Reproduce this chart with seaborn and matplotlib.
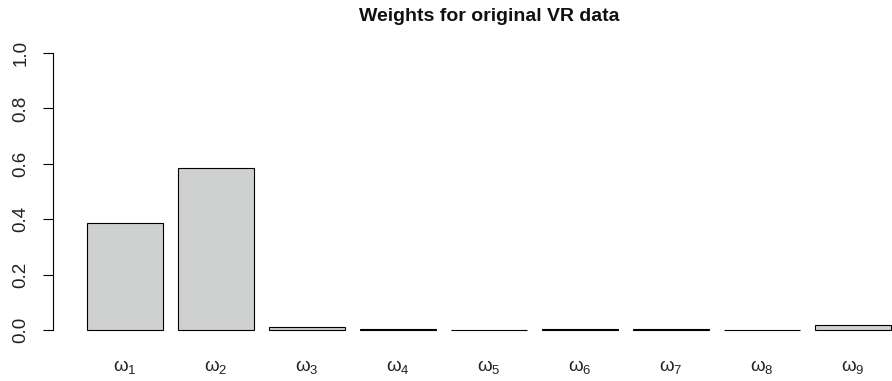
import matplotlib
matplotlib.use("Agg")
import matplotlib.pyplot as plt
import seaborn as sns
import pandas as pd

labels = [r"$\omega_{%d}$" % i for i in range(1, 10)]
weights = [0.386, 0.585, 0.012, 0.002, 0.001, 0.002, 0.005, 0.001, 0.017]
yticks = [0.0, 0.2, 0.4, 0.6, 0.8, 1.0]

sns.set_style("white")
plt.rcParams["font.family"] = ["Liberation Sans", "DejaVu Sans"]
plt.rcParams["mathtext.fontset"] = "custom"
plt.rcParams["mathtext.rm"] = "Liberation Sans"
plt.rcParams["mathtext.it"] = "Liberation Sans"

df = pd.DataFrame({"param": labels, "weight": weights})

W, H = 892, 381
fig = plt.figure(figsize=(W / 100, H / 100), dpi=100)
ax = fig.add_axes([53 / W, (H - 341) / H, (W - 53) / W, (341 - 42) / H])

sns.barplot(data=df, x="param", y="weight", color="#cfd1d1", saturation=1,
            edgecolor="black", linewidth=0.8, width=1 / 1.2, ax=ax)

ax.set_xlim(-0.79, 8.43)
ax.set_ylim(-0.04, 1.04)
ax.set_xlabel("")
ax.set_ylabel("")

for s in ["top", "right", "bottom"]:
    ax.spines[s].set_visible(False)
ax.spines["left"].set_bounds(0, 1)
ax.spines["left"].set_color("black")
ax.spines["left"].set_linewidth(0.8)

ax.set_yticks(yticks)
ax.set_yticklabels(["%.1f" % v for v in yticks], rotation=90, va="center",
                   fontsize=13.5, color="#222222")
ax.tick_params(axis="y", left=True, length=7, width=0.8, color="black", pad=10)
ax.tick_params(axis="x", bottom=False, labelsize=13.5, pad=9, labelcolor="#222222")

fig.text(489 / W, 1 - 21 / H, "Weights for original VR data", ha="center",
         va="baseline", fontsize=14, fontweight="bold", color="#111111")

fig.savefig("out.png", dpi=100)
